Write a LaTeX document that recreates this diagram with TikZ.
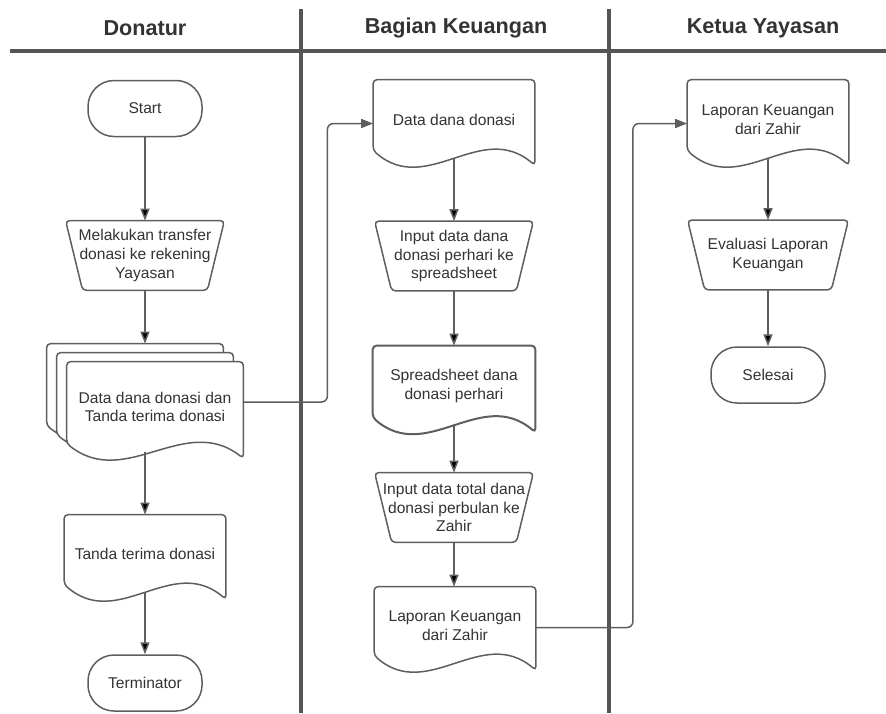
\documentclass[tikz,border=0pt]{standalone}
\usepackage{fontspec}
\setmainfont{Liberation Sans}
\usetikzlibrary{arrows.meta,calc,backgrounds}

\definecolor{lineg}{HTML}{5E5E5E}
\definecolor{txtg}{HTML}{333333}
\definecolor{laneg}{HTML}{555555}

% sheet with a wavy bottom round a named node
\newcommand{\docsheet}[2][]{%
  \draw[line width=0.75pt, draw=lineg, rounded corners=2pt, #1]
    (#2.north west) -- (#2.north east) -- ([yshift=-3pt]#2.south east)
    .. controls ($(#2.south east)!0.333!(#2.south west)+(0,20pt)$) and ($(#2.south east)!0.667!(#2.south west)+(0,-19pt)$) .. ([yshift=4.5pt]#2.south west) -- cycle;}
% manual operation box round a named node
\newcommand{\manop}[1]{%
  \draw[line width=0.75pt, draw=lineg, rounded corners=2pt]
    (#1.north west) -- (#1.north east) -- ([xshift=-8.5pt]#1.south east) -- ([xshift=8.5pt]#1.south west) -- cycle;}

\begin{document}
\begin{tikzpicture}[x=0.5pt, y=-0.5pt, font=\fontsize{7.8}{9.4}\selectfont, text=txtg,
  term/.style={draw=lineg, line width=0.75pt, rounded corners=13pt, minimum width=57pt, minimum height=28pt, inner sep=0},
  manual/.style={minimum width=79pt, minimum height=34.5pt, inner sep=0, align=center},
  doc/.style={minimum width=80.5pt, inner sep=0, align=center},
  flow/.style={draw=lineg, line width=0.75pt},
  tip/.style={-{Triangle[length=6pt, width=4.5pt]}},
  lane/.style={draw=laneg, line width=1.8pt},
  head/.style={font=\fontsize{10.8}{13}\selectfont\bfseries}]

\useasboundingbox (0,0) rectangle (886,713);

% lanes
\draw[lane] (10,51) -- (886,51);
\draw[lane] (301,9) -- (301,713);
\draw[lane] (609,9) -- (609,713);
\node[head] at (145,28) (hdon) {Donatur};
\node[head] at (456,28) (hkeu) {Bagian Keuangan};
\node[head] at (763,28) (hket) {Ketua Yayasan};

% Donatur
\node[term] at (145,108.5) (start) {Start};
\node[manual] at (145,255.5) (transfer) {Melakukan transfer\\donasi ke rekening\\Yayasan};
\manop{transfer}
\node[doc, minimum width=88pt, minimum height=45pt] at (135,389) (md1) {};
\node[doc, minimum width=88pt, minimum height=45pt] at (145,398) (md2) {};
\node[doc, minimum width=88pt, minimum height=45pt] at (155,407) (md) {Data dana donasi dan\\Tanda terima donasi};
\begin{pgfonlayer}{background}
  \docsheet[fill=white]{md1}
  \docsheet[fill=white]{md2}
  \docsheet[fill=white]{md}
\end{pgfonlayer}
\node[doc, minimum height=39pt] at (145,554) (receipt) {Tanda terima donasi};
\docsheet{receipt}
\node[term] at (145,683) (termi) {Terminator};

\path[flow]
    (start) edge[tip] (transfer)
    (transfer.south) edge[tip] (transfer.south |- md1.north)
    (md.south -| receipt.north) edge[tip] (receipt.north)
    ([yshift=0.5pt]receipt.south) edge[tip] (termi.north);

% Bagian Keuangan
\node[doc, minimum height=39.5pt] at (454,119.5) (dd) {Data dana donasi};
\docsheet{dd}
\node[manual] at (454,256) (inday) {Input data dana\\donasi perhari ke\\spreadsheet};
\manop{inday}
\node[doc, minimum width=81pt, minimum height=40pt] at (454,386) (sheet) {Spreadsheet dana\\donasi perhari};
\docsheet[line width=1pt]{sheet}
\node[manual] at (454,507.5) (inmonth) {Input data total dana\\donasi perbulan ke\\Zahir};
\manop{inmonth}
\node[doc, minimum height=38.5pt] at (455,625.5) (lk1) {Laporan Keuangan\\dari Zahir};
\docsheet{lk1}

\path[flow]
    (dd.south) edge[tip] (inday.north)
    (inday.south) edge[tip] (sheet.north)
    ([yshift=0.5pt]sheet.south) edge[tip] (inmonth.north)
    (inmonth.south) edge[tip] (inmonth.south |- lk1.north);

% Ketua Yayasan
\node[doc, minimum height=39.5pt] at (768,119.5) (lk2) {Laporan Keuangan\\dari Zahir};
\docsheet{lk2}
\node[manual, minimum width=80pt] at (768,255) (eval) {Evaluasi Laporan\\Keuangan};
\manop{eval}
\node[term] at (768,375) (finish) {Selesai};

\path[flow]
    (lk2.south) edge[tip] (eval.north)
    (eval.south) edge[tip] (finish.north);

% across the lanes
\draw[flow, tip, rounded corners=3pt] ([yshift=2.5pt]md.east) -- ++(42pt,0) |- ([yshift=-2pt]dd.west);
\draw[flow, tip, rounded corners=3pt] ([yshift=-1pt]lk1.east) -- ++(48.5pt,0) |- ([yshift=-2pt]lk2.west);

\end{tikzpicture}
\end{document}
